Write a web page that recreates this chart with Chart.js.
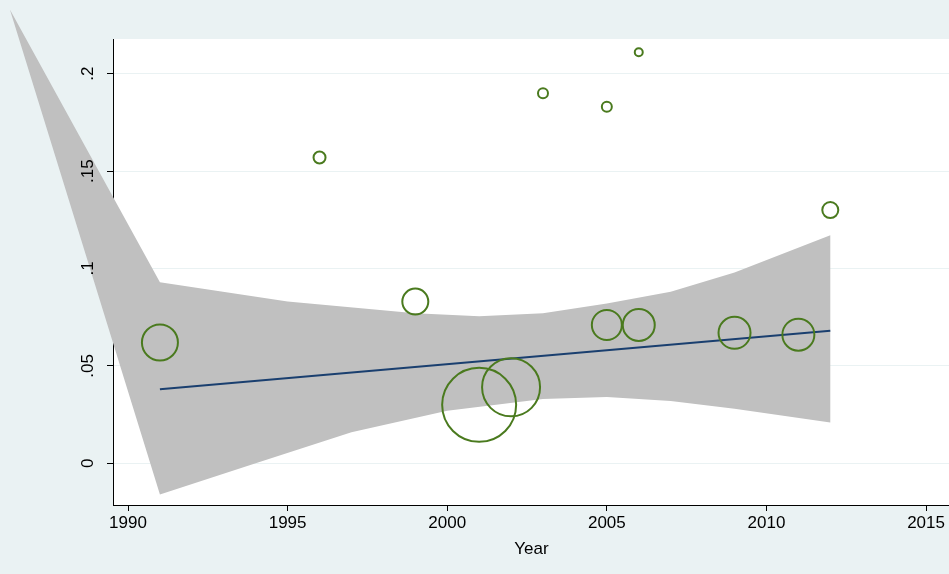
<!DOCTYPE html>
<html><head><meta charset="utf-8">
<script src="https://cdn.jsdelivr.net/npm/chart.js@4/dist/chart.umd.min.js"></script>
<style>html,body{margin:0;padding:0;background:#eaf2f3;overflow:hidden}</style>
</head><body>
<canvas id="c" width="989" height="574"></canvas>
<script>
// study bubbles: year, effect, radius
const years   = [1991, 1996, 1999, 2001, 2002, 2003, 2005, 2005, 2006, 2006, 2009, 2011, 2012];
const effects = [0.062, 0.157, 0.083, 0.030, 0.039, 0.190, 0.183, 0.071, 0.211, 0.071, 0.067, 0.066, 0.130];
const sizes   = [18, 6, 13, 37, 29, 5, 5, 15, 4, 16, 16, 16, 8];
// fitted line
const fitX = [1991, 2012];
const fitY = [0.038, 0.068];
// confidence band
const bandX  = [1986.3, 1991, 1995, 1999, 2001, 2003, 2005, 2007, 2009, 2012];
const upperY = [0.233, 0.093, 0.083, 0.077, 0.0755, 0.077, 0.082, 0.088, 0.098, 0.117];
const lowerX = [1986.3, 1991, 1994, 1997, 2000, 2003, 2005, 2007, 2009, 2012];
const lowerY = [0.233, -0.016, 0.0, 0.016, 0.027, 0.033, 0.034, 0.032, 0.028, 0.021];
const xTicks = [1990, 1995, 2000, 2005, 2010, 2015];
const yTicks = [0, 0.05, 0.1, 0.15, 0.2];
const yLabels = ['0', '.05', '.1', '.15', '.2'];

const FONT = "'Liberation Sans', Arial, sans-serif";

const bgPlugin = {
  id: 'bg',
  beforeDraw(chart) {
    const {ctx, chartArea: a} = chart;
    ctx.save();
    ctx.fillStyle = '#eaf2f3';
    ctx.fillRect(0, 0, chart.width, chart.height);
    ctx.fillStyle = '#ffffff';
    ctx.fillRect(a.left, a.top, a.right - a.left, a.bottom - a.top);
    ctx.restore();
  },
  beforeDatasetsDraw(chart) {
    // confidence band, not clipped to the plot area (as in the Stata output)
    const {ctx, scales: {x, y}} = chart;
    ctx.save();
    ctx.fillStyle = '#c0c0c0';
    ctx.beginPath();
    bandX.forEach((v, i) => {
      const px = x.getPixelForValue(v), py = y.getPixelForValue(upperY[i]);
      i ? ctx.lineTo(px, py) : ctx.moveTo(px, py);
    });
    for (let i = lowerX.length - 1; i >= 0; i--) {
      ctx.lineTo(x.getPixelForValue(lowerX[i]), y.getPixelForValue(lowerY[i]));
    }
    ctx.closePath();
    ctx.fill();
    ctx.restore();
  },
  afterDraw(chart) {
    const {ctx} = chart;
    const y = chart.scales.y;
    ctx.save();
    ctx.fillStyle = '#000';
    ctx.font = '17px ' + FONT;
    ctx.textAlign = 'center';
    ctx.textBaseline = 'middle';
    yTicks.forEach((v, i) => {
      ctx.save();
      ctx.translate(88, y.getPixelForValue(v));
      ctx.rotate(-Math.PI / 2);
      ctx.fillText(yLabels[i], 0, 0);
      ctx.restore();
    });
    ctx.restore();
  }
};

new Chart(document.getElementById('c'), {
  data: {
    datasets: [
      { type: 'line', data: fitX.map((x, i) => ({x, y: fitY[i]})), borderColor: '#1a3f6f',
        borderWidth: 2, pointRadius: 0, fill: false, order: 2 },
      { type: 'bubble', data: years.map((x, i) => ({x, y: effects[i], r: sizes[i]})),
        borderColor: '#4a7a1e', backgroundColor: 'rgba(0,0,0,0)', borderWidth: 2, order: 1 }
    ]
  },
  options: {
    responsive: false, animation: false,
    layout: { padding: { top: 34, right: 0, left: 0, bottom: 14 } },
    plugins: { legend: { display: false }, tooltip: { enabled: false } },
    scales: {
      x: {
        type: 'linear', min: 1989.53, max: 2015.75,
        afterBuildTicks: s => { s.ticks = xTicks.map(v => ({value: v})); },
        afterFit: s => { s.height = 55; },
        grid: { drawOnChartArea: false, tickLength: 6, tickColor: '#000' },
        border: { color: '#000', width: 1 },
        ticks: { color: '#000', font: { family: FONT, size: 17 }, padding: 2, maxRotation: 0, callback: v => String(v) },
        title: { display: true, text: 'Year', color: '#000', font: { family: FONT, size: 17 }, padding: 0 }
      },
      y: {
        type: 'linear', min: -0.0214, max: 0.2178,
        afterBuildTicks: s => { s.ticks = yTicks.map(v => ({value: v})); },
        afterFit: s => { s.width = 113; },
        grid: { color: '#eaf2f3', tickLength: 6, tickColor: '#000' },
        border: { color: '#000', width: 1 },
        ticks: { display: false }
      }
    }
  },
  plugins: [bgPlugin]
});
</script>
</body></html>
